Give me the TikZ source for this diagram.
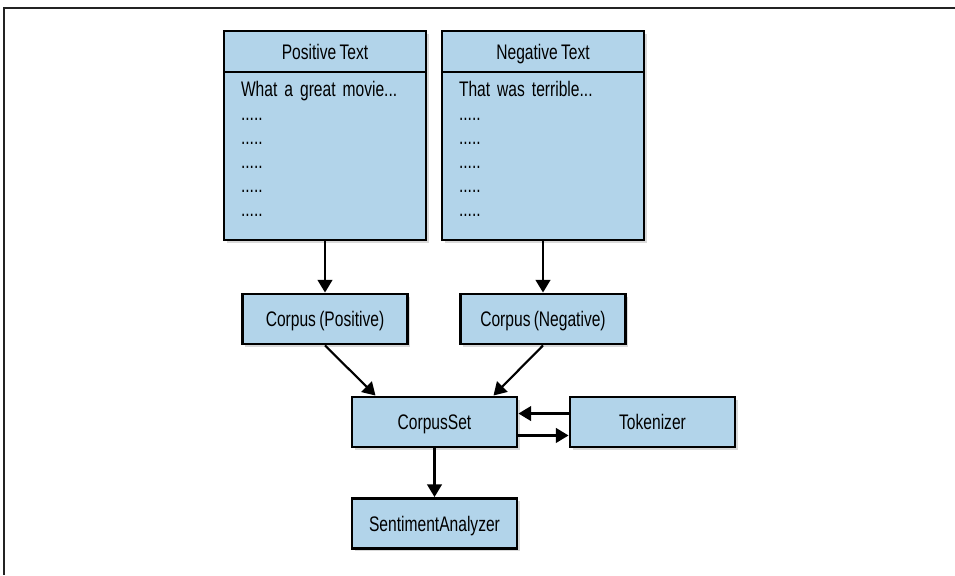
\documentclass[tikz,border=0pt]{standalone}
\usepackage{fontspec}
\setmainfont{Liberation Sans}[FakeStretch=0.74, WordSpace=0.75]
\usepackage{tikz}
\usetikzlibrary{positioning, arrows.meta, shadows}
\definecolor{boxblue}{RGB}{178, 212, 234}
\definecolor{framegray}{RGB}{35, 35, 35}

\begin{document}
\begin{tikzpicture}[x=0.75pt, y=-0.75pt, font=\fontsize{15.8}{17.9}\selectfont,
	box/.style={draw=black, line width=2.2pt, fill=boxblue, drop shadow={shadow xshift=2pt, shadow yshift=-2pt, opacity=0.3}},
	classbox/.style={box, minimum width=123.75pt, minimum height=37.5pt, inner sep=0pt, text height=11.4pt, text depth=0pt},
	headbox/.style={box, outer sep=0pt, minimum width=151.5pt, minimum height=30.75pt, inner sep=0pt, text height=11.4pt, text depth=0pt},
	listbox/.style={box, outer sep=0pt, text width=126pt, inner xsep=12.75pt, inner ysep=0pt, minimum height=126pt, align=left},
	arr/.style={-{Triangle[length=9.5pt, width=11pt]}, line width=1.6pt}]
	
	% --- Page size and frame ---
	\useasboundingbox (0,0) rectangle (955,575);
	\draw[framegray, line width=1.2pt] (955,8) -- (4,8) -- (4,575);
	
	% --- Text sources ---
	\node[headbox] (posHead) at (325, 51.5) {Positive Text};
	\node[listbox, below=0pt of posHead] (posList)
	{What a great movie...\\ .....\\ .....\\ .....\\ .....\\ .....\rule[-10.5pt]{0pt}{10.5pt}};
	
	\node[headbox] (negHead) at (543, 51.5) {Negative Text};
	\node[listbox, below=0pt of negHead] (negList)
	{That was terrible...\\ .....\\ .....\\ .....\\ .....\\ .....\rule[-10.5pt]{0pt}{10.5pt}};
	
	% --- Corpora ---
	\node[classbox] (corpPos) at (325, 319) {Corpus (Positive)};
	\node[classbox] (corpNeg) at (543, 319) {Corpus (Negative)};
	\draw[arr] (posList.south) -- (corpPos.north);
	\draw[arr] (negList.south) -- (corpNeg.north);
	
	% --- CorpusSet and Tokenizer ---
	\node[classbox] (corpusSet) at (434.5, 422) {CorpusSet};
	\node[classbox] (tokenizer) at (652.5, 422) {Tokenizer};
	\draw[arr] (corpPos.south) -- ([xshift=18.75pt]corpusSet.north west);
	\draw[arr] (corpNeg.south) -- ([xshift=-18.75pt]corpusSet.north east);
	\draw[arr] ([yshift=-13.5pt]tokenizer.north west) -- ([yshift=-13.5pt]corpusSet.north east);
	\draw[arr] ([yshift=9.75pt]corpusSet.south east) -- ([yshift=9.75pt]tokenizer.south west);
	
	% --- Analyzer ---
	\node[classbox] (sentiment) at (434.5, 523.5) {SentimentAnalyzer};
	\draw[arr] (corpusSet.south) -- (sentiment.north);
\end{tikzpicture}
\end{document}
